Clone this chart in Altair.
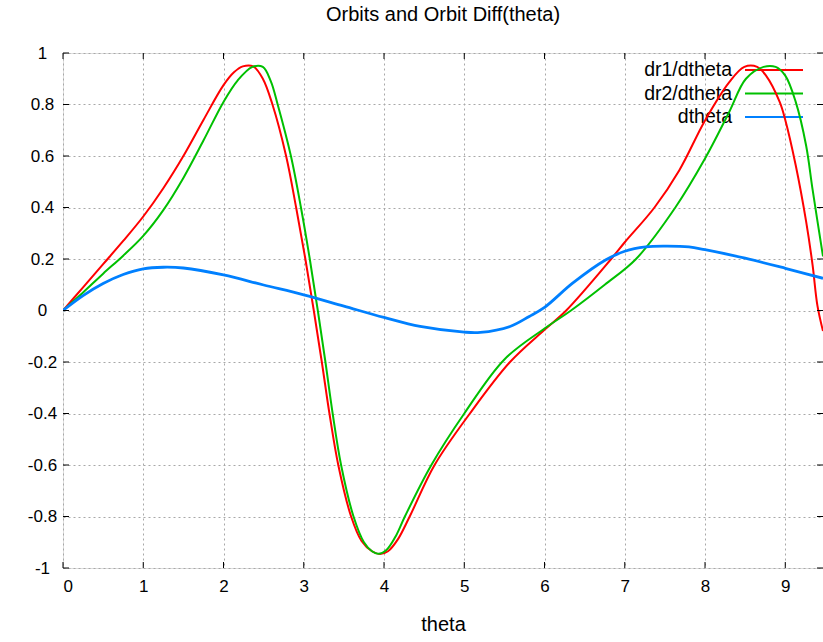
import altair as alt
import pandas as pd

# dr1/dtheta samples
dr1_theta = [0, 0.25, 0.5, 0.75, 1.0, 1.25, 1.5, 1.75, 2.0, 2.13, 2.24, 2.37, 2.49, 2.61,
             2.78, 2.905, 3.02, 3.125, 3.225, 3.32, 3.43, 3.59, 3.72, 3.85, 3.95, 4.05, 4.17,
             4.32, 4.63, 5.07, 5.57, 6.0, 6.27, 6.83, 7.0, 7.37, 7.68, 8.0, 8.3, 8.49,
             8.65, 8.76, 8.93, 9.0, 9.13, 9.26, 9.34, 9.40, 9.47]
dr1_value = [0, 0.09, 0.18, 0.27, 0.365, 0.475, 0.6, 0.74, 0.875, 0.925, 0.948, 0.948, 0.9, 0.8,
             0.6, 0.4, 0.2, 0.0, -0.2, -0.4, -0.6, -0.8, -0.895, -0.935, -0.946, -0.935, -0.89,
             -0.8, -0.6, -0.4, -0.2, -0.075, 0.0, 0.2, 0.265, 0.4, 0.545, 0.738, 0.886, 0.946,
             0.946, 0.912, 0.81, 0.74, 0.564, 0.345, 0.177, 0.02, -0.08]

# dr2/dtheta samples
dr2_theta = [0, 0.25, 0.5, 0.75, 1.0, 1.25, 1.5, 1.75, 2.0, 2.175, 2.36, 2.49, 2.59, 2.675,
             2.84, 2.965, 3.075, 3.175, 3.27, 3.36, 3.465, 3.62, 3.75, 3.85, 3.93, 4.03, 4.14,
             4.26, 4.59, 5.0, 5.5, 6.0, 6.33, 6.75, 7.14, 7.63, 8.0, 8.3, 8.51,
             8.73, 8.88, 9.0, 9.13, 9.26, 9.34, 9.47]
dr2_value = [0, 0.07, 0.143, 0.213, 0.29, 0.39, 0.515, 0.66, 0.81, 0.893, 0.946, 0.946, 0.89, 0.8,
             0.6, 0.4, 0.2, 0.0, -0.2, -0.4, -0.6, -0.8, -0.9, -0.935, -0.945, -0.93, -0.88,
             -0.8, -0.6, -0.4, -0.19, -0.07, 0.0, 0.1, 0.2, 0.4, 0.59, 0.77, 0.9,
             0.946, 0.946, 0.912, 0.81, 0.64, 0.47, 0.21]

# dtheta samples
dth_theta = [0, 0.25, 0.5, 0.75, 1.0, 1.25, 1.5, 2.0, 2.5, 3.0, 3.5, 4.0, 4.45, 5.0, 5.2,
             5.57, 5.81, 6.0, 6.35, 6.76, 7.0, 7.26, 7.5, 7.8, 8.0, 8.5, 9.0, 9.47]
dth_value = [0, 0.058, 0.105, 0.14, 0.162, 0.168, 0.165, 0.138, 0.099, 0.061, 0.017, -0.027,
             -0.062, -0.084, -0.085, -0.062, -0.023, 0.012, 0.106, 0.196, 0.23, 0.247, 0.25,
             0.247, 0.236, 0.203, 0.164, 0.125]

series_names = ["dr1/dtheta", "dr2/dtheta", "dtheta"]
series_colors = ["#ff0000", "#00c000", "#0080ff"]
series_widths = [2, 2, 2.8]

x_ticks = [0, 1, 2, 3, 4, 5, 6, 7, 8, 9]
y_ticks = [-1.0, -0.8, -0.6, -0.4, -0.2, 0.0, 0.2, 0.4, 0.6, 0.8, 1.0]

X_MAX = 9.47
W, H = 760, 515
FONT = "Liberation Sans"

frames = []
for name, th, v in zip(series_names,
                       [dr1_theta, dr2_theta, dth_theta],
                       [dr1_value, dr2_value, dth_value]):
    frames.append(pd.DataFrame({"theta": th, "value": v, "series": name}))
curves = pd.concat(frames, ignore_index=True)

x_scale = alt.Scale(domain=[0, X_MAX], nice=False, zero=False)
y_scale = alt.Scale(domain=[-1, 1], nice=False)

x_axis = alt.Axis(values=x_ticks, format="d", title="theta", grid=True,
                  gridDash=[2, 3], gridColor="#a8a8a8", tickSize=0, domain=False,
                  labelFontSize=17, labelPadding=10, labelFont=FONT, labelColor="black",
                  titleFont=FONT, titleFontSize=20, titleFontWeight="normal",
                  titleColor="black", titlePadding=20)
y_axis = alt.Axis(values=y_ticks, title=None, grid=True, gridDash=[2, 3],
                  gridColor="#a8a8a8", tickSize=0, domain=False,
                  labelExpr="replace(format(datum.value, '.1~f'), '\u2212', '-')",
                  labelFontSize=17, labelFont=FONT, labelColor="black",
                  labelAlign="center", labelPadding=21, labelBaseline="middle")

# empty base carrying the grid, axes and scales
base = alt.Chart(pd.DataFrame({"theta": x_ticks[:1], "value": [0]})).mark_point(opacity=0).encode(
    x=alt.X("theta:Q", scale=x_scale, axis=x_axis),
    y=alt.Y("value:Q", scale=y_scale, axis=y_axis),
)

# inward tick marks on all four sides
xt = pd.DataFrame({"theta": x_ticks})
yt = pd.DataFrame({"value": y_ticks})
tick_style = dict(color="black", strokeWidth=1)
ticks_bottom = alt.Chart(xt).mark_rule(**tick_style).encode(
    x=alt.X("theta:Q", scale=x_scale), y=alt.value(H), y2=alt.value(H - 6))
ticks_top = alt.Chart(xt).mark_rule(**tick_style).encode(
    x=alt.X("theta:Q", scale=x_scale), y=alt.value(0), y2=alt.value(6))
ticks_left = alt.Chart(yt).mark_rule(**tick_style).encode(
    y=alt.Y("value:Q", scale=y_scale), x=alt.value(0), x2=alt.value(6))
ticks_right = alt.Chart(yt).mark_rule(**tick_style).encode(
    y=alt.Y("value:Q", scale=y_scale), x=alt.value(W - 6), x2=alt.value(W))

# key in the upper right corner
key_layers = []
for i, (name, color) in enumerate(zip(series_names, series_colors)):
    row_y = 17 + 23.5 * i
    kd = pd.DataFrame({"label": [name]})
    key_layers.append(alt.Chart(kd).mark_text(
        align="right", baseline="middle", font=FONT, fontSize=19.5, color="black"
    ).encode(text="label:N", x=alt.value(669), y=alt.value(row_y)))
    key_layers.append(alt.Chart(kd).mark_rule(color=color, strokeWidth=2).encode(
        x=alt.value(682), x2=alt.value(740), y=alt.value(row_y)))

line_layers = []
for name, color, width in zip(series_names, series_colors, series_widths):
    line_layers.append(
        alt.Chart(curves).transform_filter(alt.datum.series == name).mark_line(
            color=color, strokeWidth=width, interpolate="catmull-rom", clip=True
        ).encode(
            x=alt.X("theta:Q", scale=x_scale),
            y=alt.Y("value:Q", scale=y_scale),
        )
    )

chart = alt.layer(
    base, *key_layers, *line_layers,
    ticks_bottom, ticks_top, ticks_left, ticks_right,
).properties(
    width=W, height=H,
    title=alt.TitleParams("Orbits and Orbit Diff(theta)", font=FONT, fontSize=20,
                          fontWeight="normal", color="black", anchor="middle", offset=19),
    autosize=alt.AutoSizeParams(type="none"),
    padding={"left": 63, "top": 53, "right": 0, "bottom": 74},
).configure_view(
    stroke="black", strokeWidth=1
).configure(background="white")

chart.save("out.html", embed_options={"renderer": "svg", "actions": False})
